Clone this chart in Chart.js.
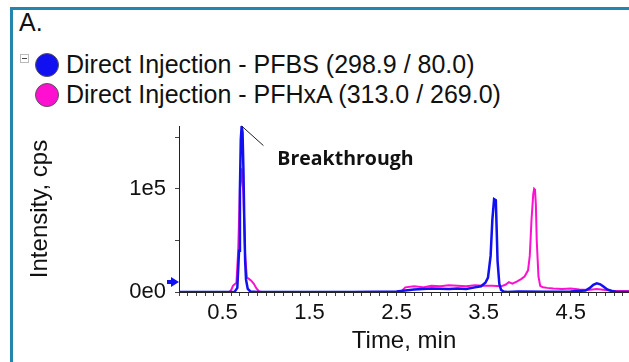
<!DOCTYPE html>
<html>
<head>
<meta charset="utf-8">
<script src="https://cdn.jsdelivr.net/npm/chart.js@4.4.1/dist/chart.umd.min.js"></script>
<style>
  html, body { margin: 0; padding: 0; background: #fff; }
  #wrap { position: relative; width: 629px; height: 362px; overflow: hidden;
          font-family: "Liberation Sans", Arial, sans-serif; color: #111; }
  #frame { position: absolute; left: 10px; top: 7px; width: 640px; height: 380px;
           border-left: 3px solid #2386ad; border-top: 3px solid #2386ad; }
  #panel { position: absolute; left: 19px; top: 8px; font-size: 25px; }
  .row { position: absolute; left: 35px; height: 30px; font-size: 25px; white-space: nowrap; }
  .dot { position: absolute; left: 0; top: 3px; width: 24px; height: 24px; border-radius: 50%;
         border: 1px solid #555; box-sizing: border-box; }
  .row span { position: absolute; left: 31px; top: 0px; }
  #minus { position: absolute; left: 20px; top: 54px; width: 9px; height: 9px;
           border: 1px solid #bbb; box-sizing: border-box; }
  #minus::after { content: ""; position: absolute; left: 1px; top: 3px; width: 5px; height: 1px; background: #444; }
  canvas { position: absolute; left: 0; top: 0; }
</style>
</head>
<body>
<div id="wrap">
  <div id="frame"></div>
  <div id="panel">A.</div>
  <div id="minus"></div>
  <div id="legend"></div>
  <canvas id="chart" width="629" height="362"></canvas>
</div>
<script>
// names shown in the legend
const seriesNames = ["Direct Injection - PFBS (298.9 / 80.0)", "Direct Injection - PFHxA (313.0 / 269.0)"];
const seriesColors = ["#1010f0", "#ff10d0"];

// PFBS trace (time in min, intensity in cps)
const pfbsTime = [0, 0.3, 0.6, 0.64, 0.67, 0.69, 0.7, 0.71, 0.72, 0.73, 0.74, 0.75, 0.76, 0.77, 0.79, 0.82, 0.9,
  1.5, 2.0, 2.5, 2.7, 2.9, 3.1, 3.2, 3.3, 3.4, 3.47, 3.52, 3.55, 3.58, 3.6, 3.62, 3.64, 3.65, 3.66, 3.68, 3.7,
  3.73, 3.77, 3.9, 4.2, 4.5, 4.67, 4.72, 4.76, 4.8, 4.84, 4.88, 4.92, 4.97, 5.02, 5.17];
const pfbsIntensity = [0, 0, 0, 300, 4000, 40000, 100000, 148000, 161000, 155000, 120000, 70000, 30000, 12000, 3000, 500, 0,
  0, 0, 500, 2500, 3500, 3000, 3500, 3000, 4500, 5500, 9000, 14000, 35000, 70000, 90000, 89000, 60000, 30000, 8000, 2000,
  500, 0, 500, 300, 500, 1500, 4000, 7000, 8500, 7500, 5000, 2500, 1000, 300, 0];

// PFHxA trace
const pfhxaTime = [0, 0.3, 0.58, 0.6, 0.62, 0.64, 0.66, 0.68, 0.7, 0.72, 0.74, 0.76, 0.78, 0.8, 0.83, 0.86, 0.89, 0.92, 0.95,
  1.5, 2.0, 2.5, 2.56, 2.6, 2.7, 2.8, 2.9, 3.0, 3.1, 3.2, 3.3, 3.4, 3.5, 3.6, 3.7, 3.75, 3.79, 3.83, 3.88, 3.93, 3.97,
  4.01, 4.03, 4.05, 4.07, 4.08, 4.09, 4.1, 4.11, 4.13, 4.15, 4.18, 4.23, 4.3, 4.4, 4.5, 4.6, 4.7, 4.8, 4.9, 5.0, 5.17];
const pfhxaIntensity = [0, 0, 0, 2000, 6000, 7500, 9000, 40000, 100000, 120000, 95000, 35000, 14000, 13000, 11000, 8000, 3500, 500, 0,
  0, 0, 0, 1000, 4500, 5500, 4500, 6000, 5500, 6500, 6000, 5500, 6500, 6000, 6000, 5500, 7000, 9500, 8000, 10000, 12500, 15000,
  21000, 35000, 70000, 95000, 100000, 99000, 85000, 50000, 15000, 6000, 4500, 4000, 3500, 3000, 3500, 2500, 2000, 3000, 2000, 1000, 1000];

// axis
const xMin = 0, xMax = 5.17, yMax = 161000;
const xTickLabels = ["0.5", "1.5", "2.5", "3.5", "4.5"];
const yTicks = [0, 50000, 100000, 150000];
const yTickLabels = ["0e0", "", "1e5", ""];
const noteText = "Breakthrough";

// legend in html
const legendBox = document.getElementById("legend");
seriesNames.forEach(function (name, i) {
    const row = document.createElement("div");
    row.className = "row";
    row.style.top = (50 + i * 30) + "px";
    row.innerHTML = '<div class="dot" style="background:' + seriesColors[i] + '"></div><span>' + name + '</span>';
    legendBox.appendChild(row);
});

function toPoints(xs, ys) {
    return xs.map(function (x, i) { return { x: x, y: ys[i] }; });
}

// arrow on the y axis + callout line and text
const extras = {
    id: "extras",
    afterDatasetsDraw(chart) {
        const ctx = chart.ctx;
        const xs = chart.scales.x, ys = chart.scales.y;
        ctx.save();
        // callout
        ctx.strokeStyle = "#222";
        ctx.lineWidth = 1;
        ctx.beginPath();
        ctx.moveTo(xs.getPixelForValue(0.72), ys.getPixelForValue(yMax));
        ctx.lineTo(xs.getPixelForValue(0.97), ys.getPixelForValue(142000));
        ctx.stroke();
        ctx.fillStyle = "#111";
        ctx.font = "bold 19.5px 'Open Sans'";
        ctx.textBaseline = "middle";
        ctx.fillText(noteText, xs.getPixelForValue(1.13), ys.getPixelForValue(129000));
        // little arrow at the baseline
        const ax = chart.chartArea.left, ay = ys.getPixelForValue(0) - 10;
        ctx.fillStyle = "#1010f0";
        ctx.beginPath();
        ctx.moveTo(ax, ay);
        ctx.lineTo(ax - 8, ay - 5);
        ctx.lineTo(ax - 8, ay - 2);
        ctx.lineTo(ax - 12, ay - 2);
        ctx.lineTo(ax - 12, ay + 2);
        ctx.lineTo(ax - 8, ay + 2);
        ctx.lineTo(ax - 8, ay + 5);
        ctx.closePath();
        ctx.fill();
        ctx.restore();
    }
};

new Chart(document.getElementById("chart"), {
    type: "line",
    data: {
        datasets: [{
            label: seriesNames[0],
            data: toPoints(pfbsTime, pfbsIntensity),
            borderColor: seriesColors[0],
            borderWidth: 2.5,
            pointRadius: 0,
            tension: 0
        }, {
            label: seriesNames[1],
            data: toPoints(pfhxaTime, pfhxaIntensity),
            borderColor: seriesColors[1],
            borderWidth: 2,
            pointRadius: 0,
            tension: 0
        }]
    },
    options: {
        responsive: false,
        animation: false,
        layout: { padding: { left: 12, top: 126, right: 0, bottom: 0 } },
        plugins: { legend: { display: false }, tooltip: { enabled: false } },
        scales: {
            x: {
                type: "linear",
                min: xMin,
                max: xMax,
                afterFit(scale) { scale.height = 70; },
                afterBuildTicks(scale) {
                    const t = [];
                    for (let k = 0; k <= Math.floor(xMax * 10); k++) t.push({ value: k / 10 });
                    scale.ticks = t;
                },
                border: { color: "#222", width: 1 },
                grid: { drawOnChartArea: false, drawTicks: true, tickLength: 4, color: "#444" },
                ticks: {
                    autoSkip: false,
                    maxRotation: 0,
                    padding: 4,
                    color: "#111",
                    font: { family: "'Liberation Sans', Arial", size: 22 },
                    callback(v) {
                        const k = Math.round(v * 10);
                        if (k % 10 === 5) return xTickLabels[(k - 5) / 10];
                        return "";
                    }
                },
                title: {
                    display: true,
                    text: "Time, min",
                    color: "#111",
                    padding: { top: 0, bottom: 6 },
                    font: { family: "'Liberation Sans', Arial", size: 24 }
                }
            },
            y: {
                min: 0,
                max: yMax,
                afterFit(scale) { scale.width = 167; },
                afterBuildTicks(scale) {
                    scale.ticks = yTicks.map(function (v) { return { value: v }; });
                },
                border: { color: "#222", width: 1 },
                grid: { drawOnChartArea: false, drawTicks: true, tickLength: 4, color: "#444" },
                ticks: {
                    autoSkip: false,
                    padding: 9,
                    color: "#111",
                    font: { family: "'Liberation Sans', Arial", size: 22 },
                    callback(v) {
                        const i = yTicks.indexOf(Math.round(v));
                        return i >= 0 ? yTickLabels[i] : "";
                    }
                },
                title: {
                    display: true,
                    text: "Intensity, cps",
                    color: "#111",
                    padding: { top: 14, bottom: 0 },
                    font: { family: "'Liberation Sans', Arial", size: 24 }
                }
            }
        }
    },
    plugins: [extras]
});
</script>
</body>
</html>
